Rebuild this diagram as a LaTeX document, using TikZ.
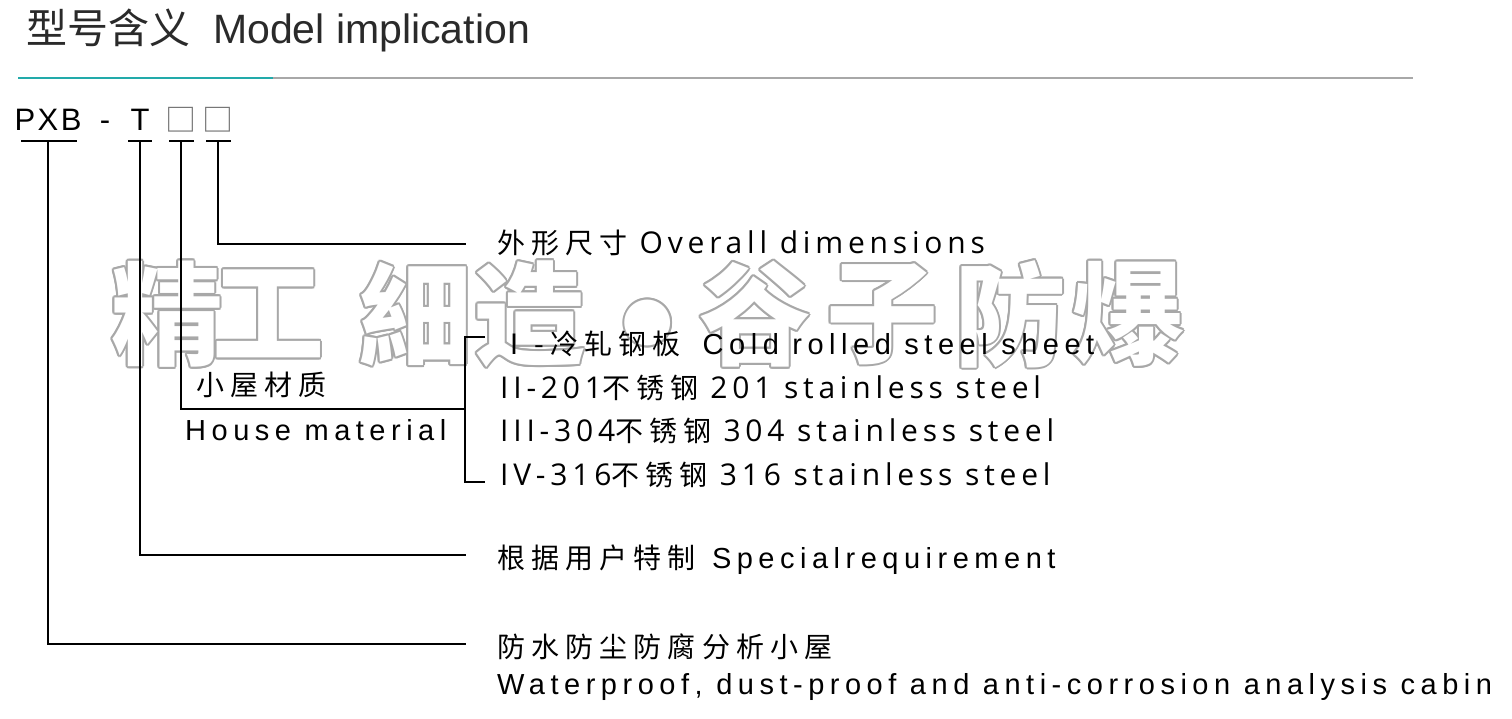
\documentclass[tikz,border=0pt]{standalone}
\usepackage{fontspec}
\usetikzlibrary{calc}
\setmainfont{Liberation Sans}
\newfontfamily\cjk{Noto Sans CJK SC}
\newfontfamily\cjks[LetterSpace=22]{Noto Sans CJK SC}
\newfontfamily\ars[LetterSpace=19]{Liberation Sans}
\newfontfamily\arp[LetterSpace=8]{Liberation Sans}
\newfontfamily\ops[LetterSpace=16]{Open Sans}
\newfontfamily\dvs{DejaVu Sans}
\definecolor{tealline}{HTML}{22AAAA}
\definecolor{greyline}{HTML}{A8A8A8}
\definecolor{wmgray}{HTML}{A8A8A8}
\definecolor{titlegray}{HTML}{2A2A2A}
\newcommand\wmchar[4]{% name, x, y, text
  \foreach \a in {0,30,...,330}{\node[wm,text=wmgray] at ($(#2,#3)+(\a:2)$) {#4};}
  \node[wm,text=white] (#1) at (#2,#3) {#4};}
\newcommand\cj[1]{{\cjks\fontsize{28}{28}\selectfont #1}}
\newcommand\ar[1]{{\ars\fontsize{29}{29}\selectfont #1}}
\newcommand\op[1]{{\ops\fontsize{30}{30}\selectfont #1}}
\begin{document}
\begin{tikzpicture}[x=1pt,y=-1pt,
  ln/.style={line width=2pt,black},
  lab/.style={anchor=west,inner sep=0pt,text=black},
  wm/.style={inner sep=0pt,font=\cjk\bfseries\fontsize{112}{112}\selectfont},
  code/.style={anchor=base,inner sep=0pt,text=black,font=\arp\fontsize{31}{31}\selectfont},
  sq/.style={inner sep=0pt,text=black!55,font=\cjk\fontsize{31}{31}\selectfont}]
\useasboundingbox (0,0) rectangle (1512,719);
% watermark
\wmchar{w1}{167}{314}{精}
\wmchar{w2}{268}{314}{工}
\wmchar{w3}{415}{314}{細}
\wmchar{w4}{529}{314}{造}
\wmchar{w5}{648}{323}{\dvs\mdseries\fontsize{60}{60}\selectfont ●}
\wmchar{w6}{755}{314}{谷}
\wmchar{w7}{882}{314}{子}
\wmchar{w8}{1010}{314}{防}
\wmchar{w9}{1128}{314}{爆}
% title
\node[lab,text=titlegray,font=\fontsize{41}{41}\selectfont] (title) at (26,30)
  {{\cjk 型号含义}\hspace{23pt}Model implication};
\coordinate (r0) at (18,78);
\coordinate (r1) at (273,78);
\coordinate (r2) at (1413,78);
\draw[line width=2.5pt,tealline] (r0) -- (r1);
\draw[line width=2.5pt,greyline] (r1) -- (r2);
% code
\node[code] (pxb) at (48,131) {PXB};
\node[code] (dash) at (105,131) {-};
\node[code] (t) at (140,131) {T};
\node[sq] (b1) at (181,120) {□};
\node[sq] (b2) at (218,120) {□};
% tick bars
\coordinate (p0) at (21,141); \coordinate (p1) at (77,141);
\coordinate (t0) at (128,141); \coordinate (t1) at (152,141);
\coordinate (c0) at (169,141); \coordinate (c1) at (194,141);
\coordinate (d0) at (206,141); \coordinate (d1) at (231,141);
\draw[ln] (p0) -- (p1);
\draw[ln] (t0) -- (t1);
\draw[ln] (c0) -- (c1);
\draw[ln] (d0) -- (d1);
% labels
\node[lab] (dim) at (497,243) {\cj{外形尺寸}\hspace{12pt}\op{Overall dimensions}};
\node[lab] (matcn) at (196,385) {\cj{小屋材质}};
\node[lab] (maten) at (185,430) {\ar{House material}};
\node[lab] (m1) at (500,344) {\cj{Ⅰ-冷轧钢板}\hspace{22pt}\ar{Cold rolled steel sheet}};
\node[lab] (m2) at (500,388) {\op{II-201}\cj{不锈钢}\hspace{12pt}\op{201 stainless steel}};
\node[lab] (m3) at (500,431) {\op{III-304}\cj{不锈钢}\hspace{12pt}\op{304 stainless steel}};
\node[lab] (m4) at (500,475) {\op{IV-316}\cj{不锈钢}\hspace{12pt}\op{316 stainless steel}};
\node[lab] (spec) at (497,560) {\cj{根据用户特制}\hspace{16pt}\ar{Specialrequirement}};
\node[lab] (cabcn) at (497,647) {\cj{防水防尘防腐分析小屋}};
\node[lab] (caben) at (497,687) {\ar{Waterproof, dust-proof and anti-corrosion analysis cabin}};
% connectors
\coordinate (e2) at (466,244);
\coordinate (e1) at (465,409);
\coordinate (bt) at (465,337);
\coordinate (bb) at (465,482);
\coordinate (bt1) at (485,337);
\coordinate (bb1) at (485,482);
\coordinate (et) at (466,555);
\coordinate (ep) at (466,644);
\draw[ln] (d0 -| b2) |- (e2);
\draw[ln] (c0 -| b1) |- (e1);
\draw[ln] (bt1) -- (bt) -- (bb) -- (bb1);
\draw[ln] (t0 -| t) |- (et);
\draw[ln] (p0 -| pxb) |- (ep);
\end{tikzpicture}
\end{document}
